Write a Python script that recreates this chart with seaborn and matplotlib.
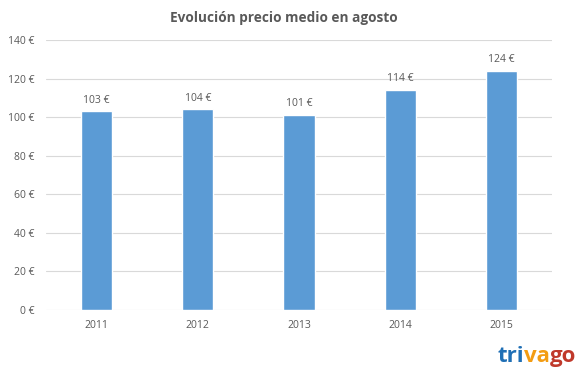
import pandas as pd
import matplotlib.pyplot as plt
import seaborn as sns

# datos
years = ['2011', '2012', '2013', '2014', '2015']
prices = [103, 104, 101, 114, 124]
yticks = [0, 20, 40, 60, 80, 100, 120, 140]

df = pd.DataFrame({'year': years, 'price': prices})

sns.set_style('white')
plt.rcParams['font.family'] = ['Open Sans', 'DejaVu Sans']

fig = plt.figure(figsize=(5.85, 3.78), dpi=100)
ax = fig.add_axes([0.0786, 0.18, 0.865, 0.7142])

sns.barplot(data=df, x='year', y='price', color='#5B9BD5', width=0.31,
            saturation=1, ax=ax, zorder=3)

for i, v in enumerate(prices):
    ax.text(i, v + 3, f'{v} €', ha='center', va='bottom', fontsize=7.5, color='#595959')

ax.set_xlim(-0.5, 4.5)
ax.set_ylim(0, 140)
ax.set_yticks(yticks)
ax.set_yticklabels([f'{t} €' for t in yticks])
ax.grid(axis='y', color='#D9D9D9', linewidth=0.8, zorder=0)
ax.tick_params(axis='both', length=0, labelsize=7.5, labelcolor='#595959')
ax.tick_params(axis='x', pad=7)
ax.tick_params(axis='y', pad=8)
ax.set_xlabel('')
ax.set_ylabel('')
for s in ax.spines.values():
    s.set_visible(False)

fig.text(0.485, 0.952, 'Evolución precio medio en agosto', ha='center', va='center',
         fontsize=9.8, fontweight='bold', color='#595959')

# logo trivago
logo_parts = [('tri', '#1F6FB5'), ('va', '#F39C12'), ('go', '#C0392B')]
x0 = 0.85
for part, col in logo_parts:
    t = fig.text(x0, 0.057, part, ha='left', va='center', fontsize=16,
                 fontweight='bold', color=col)
    fig.canvas.draw()
    bb = t.get_window_extent()
    x0 += bb.width / fig.bbox.width

fig.savefig('out.png', dpi=100)
